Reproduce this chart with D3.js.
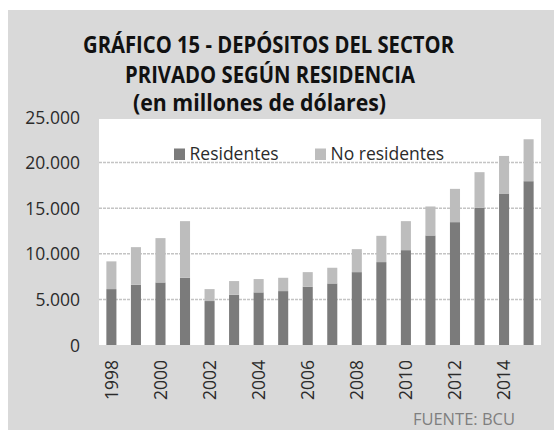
<!DOCTYPE html>
<html>
<head>
<meta charset="utf-8">
<script src="https://cdn.jsdelivr.net/npm/d3@7"></script>
<style>
  body { margin: 0; background: #fff; }
  svg { display: block; }
</style>
</head>
<body>
<div id="chart"></div>
<script>
const years = ["1998","1999","2000","2001","2002","2003","2004","2005","2006","2007","2008","2009","2010","2011","2012","2013","2014","2015"];
const residentes   = [6130, 6600, 6860, 7370, 4820, 5510, 5770, 5910, 6390, 6750, 7990, 9090, 10400, 12010, 13470, 15040, 16610, 17960];
const noResidentes = [3040, 4130, 4860, 6210, 1310, 1500, 1460, 1460, 1600, 1720, 2520, 2880, 3180, 3180, 3650, 3910, 4120, 4600];
const yTicks = [0, 5000, 10000, 15000, 20000, 25000];
const tickYears = ["1998","2000","2002","2004","2006","2008","2010","2012","2014"];
const seriesNames = ["Residentes", "No residentes"];

const w = 554, h = 430;
const plotLeft = 99, plotRight = 541, plotTop = 117, plotBottom = 345;
const colors = ["#7b7b7b", "#bdbdbd"];
const font = "'Open Sans', 'Liberation Sans', sans-serif";

const svg = d3.select("#chart").append("svg")
  .attr("width", w).attr("height", h);

// outer panel
svg.append("rect").attr("x", 8).attr("y", 10).attr("width", w - 8).attr("height", h - 10)
  .attr("fill", "#d9d9d9");

// plot area
svg.append("rect").attr("x", plotLeft).attr("y", plotTop + 2)
  .attr("width", plotRight - plotLeft).attr("height", plotBottom - plotTop - 2)
  .attr("fill", "#ffffff");

const xScale = d3.scaleBand().domain(years).range([plotLeft, plotRight]).paddingInner(0.59).paddingOuter(0.3);
const yScale = d3.scaleLinear().domain([0, 25000]).range([plotBottom, plotTop]);

// gridlines
svg.append("g").selectAll("line")
  .data(yTicks.filter(d => d > 0 && d < 25000))
  .enter().append("line")
  .attr("x1", plotLeft).attr("x2", plotRight)
  .attr("y1", d => yScale(d)).attr("y2", d => yScale(d))
  .attr("stroke", "#c4c4c4").attr("stroke-width", 1.5)
  .attr("stroke-dasharray", "3,1");

// y axis
const yAxis = d3.axisLeft(yScale).tickValues(yTicks)
  .tickFormat(d => d3.format(",")(d).replace(/,/g, ".")).tickSize(0).tickPadding(0);
const gy = svg.append("g").attr("transform", "translate(80,0)").call(yAxis);
gy.select(".domain").remove();
gy.selectAll("text").attr("font-family", font).attr("font-size", 17.5).attr("fill", "#2b2b2b")
  .attr("dy", "0.35em");

// x axis
const xAxis = d3.axisBottom(xScale).tickValues(tickYears).tickSize(0).tickPadding(0);
const gx = svg.append("g").attr("transform", "translate(0," + plotBottom + ")").call(xAxis);
gx.select(".domain").remove();
gx.selectAll("text")
  .attr("font-family", font).attr("font-size", 17.5).attr("fill", "#2b2b2b")
  .attr("text-anchor", "end")
  .attr("transform", "translate(0,15) rotate(-90)")
  .attr("x", 0).attr("y", 0).attr("dy", "0.35em");

// stacked bars
const data = years.map((y, i) => ({ year: y, r: residentes[i], n: noResidentes[i] }));
const stacked = d3.stack().keys(["r", "n"])(data);
svg.append("g").selectAll("g")
  .data(stacked).enter().append("g")
  .attr("fill", (d, i) => colors[i])
  .selectAll("rect")
  .data(d => d).enter().append("rect")
  .attr("x", d => xScale(d.data.year))
  .attr("width", xScale.bandwidth())
  .attr("y", d => yScale(d[1]))
  .attr("height", d => yScale(d[0]) - yScale(d[1]));

// legend
const legendX = [174, 315];
const lg = svg.append("g");
seriesNames.forEach((name, i) => {
  lg.append("rect").attr("x", legendX[i]).attr("y", 148.5).attr("width", 11).attr("height", 11.5)
    .attr("fill", colors[i]);
  lg.append("text").attr("x", legendX[i] + 15.5).attr("y", 160)
    .attr("font-family", font).attr("font-size", 17.5).attr("fill", "#2b2b2b")
    .text(name);
});

// title
const titleLines = [
  { t: "GRÁFICO 15 - DEPÓSITOS DEL SECTOR", y: 53, len: 371 },
  { t: "PRIVADO SEGÚN RESIDENCIA", y: 83, len: 290 },
  { t: "(en millones de dólares)", y: 111, len: 253 }
];
const x0s = [83, 125, 133];
titleLines.forEach((l, i) => {
  svg.append("text").attr("x", x0s[i]).attr("y", l.y)
    .attr("font-family", font).attr("font-weight", "bold").attr("font-size", 22.5)
    .attr("fill", "#111")
    .attr("textLength", l.len).attr("lengthAdjust", "spacingAndGlyphs")
    .text(l.t);
});

// source
svg.append("text").attr("x", 515).attr("y", 425).attr("text-anchor", "end")
  .attr("font-family", font).attr("font-size", 16.5).attr("fill", "#7f7f7f")
  .text("FUENTE: BCU");
</script>
</body>
</html>
